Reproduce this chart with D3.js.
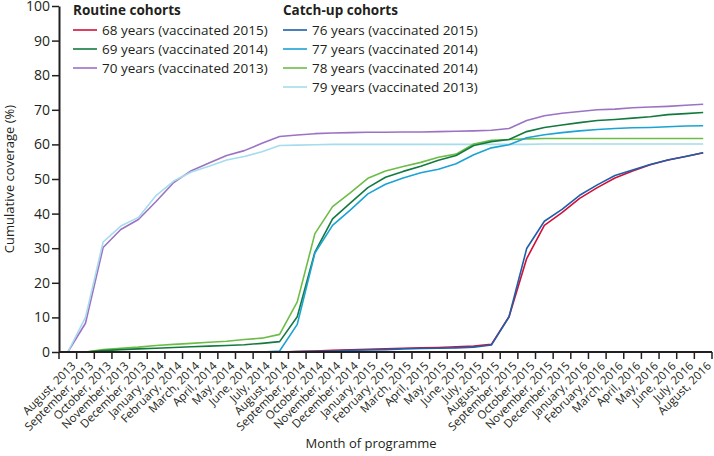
<!DOCTYPE html>
<html>
<head>
<meta charset="utf-8">
<script src="https://cdnjs.cloudflare.com/ajax/libs/d3/7.8.5/d3.min.js"></script>
<style>
  body { margin: 0; background: #fff; }
  svg text { font-family: "Open Sans", sans-serif; fill: #231f20; }
</style>
</head>
<body>
<div id="chart"></div>
<script>
// months of programme
var months = ["August, 2013", "September, 2013", "October, 2013", "November, 2013", "December, 2013",
  "January, 2014", "February, 2014", "March, 2014", "April, 2014", "May, 2014", "June, 2014", "July, 2014",
  "August, 2014", "September, 2014", "October, 2014", "November, 2014", "December, 2014",
  "January, 2015", "February, 2015", "March, 2015", "April, 2015", "May, 2015", "June, 2015", "July, 2015",
  "August, 2015", "September, 2015", "October, 2015", "November, 2015", "December, 2015",
  "January, 2016", "February, 2016", "March, 2016", "April, 2016", "May, 2016", "June, 2016", "July, 2016",
  "August, 2016"];

var yTicks = [0, 10, 20, 30, 40, 50, 60, 70, 80, 90, 100];

// routine cohorts (null = not yet in programme)
var age68 = [null, null, null, null, null, null, null, null, null, null, null, null,
  0, 0.1, 0.3, 0.5, 0.6, 0.8, 0.9, 1.1, 1.2, 1.3, 1.5, 1.7, 2.2,
  10.2, 27, 36.6, 40.3, 44.4, 47.5, 50.3, 52.3, 54.1, 55.5, 56.5, 57.6];
var age69 = [null, 0, 0.4, 0.7, 0.9, 1.1, 1.3, 1.5, 1.7, 1.9, 2.1, 2.5,
  3.0, 10.2, 28.9, 38.5, 43, 47.5, 50.5, 52.2, 53.7, 55.4, 56.8, 59.7, 60.8,
  61.4, 63.7, 64.9, 65.6, 66.3, 66.9, 67.2, 67.6, 68, 68.6, 68.9, 69.2];
var age70 = [0, 8.3, 30.2, 35.4, 38.3, 43.5, 49, 52.4, 54.6, 56.8, 58.2, 60.3,
  62.3, 62.7, 63.1, 63.3, 63.4, 63.5, 63.5, 63.6, 63.6, 63.7, 63.8, 63.9, 64.1,
  64.6, 66.9, 68.3, 69, 69.5, 70, 70.2, 70.6, 70.8, 71, 71.3, 71.6];

// catch-up cohorts
var age76 = [null, null, null, null, null, null, null, null, null, null, null, null,
  0, 0.1, 0.2, 0.3, 0.5, 0.6, 0.7, 0.9, 1.0, 1.1, 1.2, 1.4, 2.0,
  10.2, 29.9, 37.8, 41.2, 45.3, 48.3, 51, 52.6, 54.2, 55.5, 56.5, 57.6];
var age77 = [null, null, null, null, null, null, null, null, null, null, null, 0,
  0.3, 8, 28.6, 36.6, 41, 45.7, 48.5, 50.3, 51.8, 52.8, 54.4, 57, 59,
  59.9, 61.9, 62.8, 63.4, 63.9, 64.3, 64.6, 64.8, 64.9, 65.1, 65.3, 65.4];
var age78 = [null, 0, 0.7, 1.1, 1.4, 1.9, 2.2, 2.5, 2.8, 3.1, 3.6, 4.0,
  5.1, 14.5, 34.2, 42, 46, 50.2, 52.3, 53.6, 54.8, 56.3, 57.2, 60.1, 61.2,
  61.4, 61.6, 61.7, 61.7, 61.7, 61.7, 61.7, 61.7, 61.7, 61.7, 61.7, 61.7];
var age79 = [0, 10, 31.8, 36.4, 38.9, 45.2, 49.4, 52, 53.7, 55.5, 56.5, 57.9,
  59.7, 59.8, 59.9, 60, 60, 60, 60, 60, 60, 60, 60, 60, 60,
  60, 60, 60.1, 60.1, 60.1, 60.1, 60.1, 60.1, 60.1, 60.1, 60.1, 60.1];

var routine = [
  { name: "68 years (vaccinated 2015)", values: age68, color: "#d0103a" },
  { name: "69 years (vaccinated 2014)", values: age69, color: "#137a3f" },
  { name: "70 years (vaccinated 2013)", values: age70, color: "#9b72c4" }
];
var catchup = [
  { name: "76 years (vaccinated 2015)", values: age76, color: "#1f5ea8" },
  { name: "77 years (vaccinated 2014)", values: age77, color: "#1ba3d3" },
  { name: "78 years (vaccinated 2014)", values: age78, color: "#6cbd45" },
  { name: "79 years (vaccinated 2013)", values: age79, color: "#a6dcec" }
];

var width = 714, height = 456;
var margin = { top: 6, right: 2, bottom: 104, left: 59 };

var svg = d3.select("#chart").append("svg")
  .attr("width", width)
  .attr("height", height);

var x = d3.scaleBand()
  .domain(months)
  .range([margin.left, width - margin.right])
  .paddingInner(0).paddingOuter(0);

var y = d3.scaleLinear()
  .domain([0, 100])
  .range([height - margin.bottom, margin.top]);

var line = d3.line()
  .defined(d => d != null)
  .x((d, i) => x(months[i]) + x.bandwidth() / 2)
  .y(d => y(d));

// draw order roughly as in the original
var drawOrder = [routine[2], catchup[3], catchup[2], routine[1], catchup[1], routine[0], catchup[0]];

svg.append("g")
  .selectAll("path")
  .data(drawOrder)
  .join("path")
  .attr("fill", "none")
  .attr("stroke", d => d.color)
  .attr("stroke-width", 1.6)
  .attr("stroke-linejoin", "round")
  .attr("d", d => line(d.values));

// y axis
var yAxis = svg.append("g")
  .attr("transform", `translate(${margin.left},0)`)
  .call(d3.axisLeft(y).tickValues(yTicks).tickSize(7).tickSizeOuter(0));
yAxis.select(".domain").attr("stroke", "#231f20").attr("stroke-width", 2);
yAxis.selectAll(".tick line").attr("stroke", "#231f20").attr("stroke-width", 1.5);
yAxis.selectAll(".tick text")
  .attr("x", -9)
  .style("font-size", "14px")
  .style("font-family", "Open Sans, sans-serif");

// x axis, ticks on band boundaries
var xAxisG = svg.append("g")
  .attr("transform", `translate(0,${y(0)})`);
xAxisG.append("line")
  .attr("x1", margin.left).attr("x2", width - margin.right)
  .attr("stroke", "#231f20").attr("stroke-width", 2);
var bounds = months.map(m => x(m)).concat([x(months[months.length - 1]) + x.bandwidth()]);
xAxisG.selectAll(".tk")
  .data(bounds)
  .join("line")
  .attr("class", "tk")
  .attr("x1", d => d).attr("x2", d => d)
  .attr("y1", 0).attr("y2", 7)
  .attr("stroke", "#231f20").attr("stroke-width", 1.5);
xAxisG.selectAll(".lbl")
  .data(months)
  .join("text")
  .attr("class", "lbl")
  .attr("transform", d => `translate(${x(d) + x.bandwidth() / 2 + 3},9)rotate(-45)`)
  .attr("text-anchor", "end")
  .attr("dy", "0.7em")
  .style("font-size", "11.5px")
  .text(d => d);

// axis titles
svg.append("text")
  .attr("transform", `translate(14,${y(50)})rotate(-90)`)
  .attr("text-anchor", "middle")
  .style("font-size", "13px")
  .text("Cumulative coverage (%)");

svg.append("text")
  .attr("x", 371).attr("y", 448)
  .attr("text-anchor", "middle")
  .style("font-size", "13px")
  .text("Month of programme");

// legends
function legend(x0, title, items) {
  var g = svg.append("g").attr("transform", `translate(${x0},0)`);
  g.append("text")
    .attr("x", 0).attr("y", 15)
    .style("font-size", "13.5px")
    .style("font-weight", "bold")
    .text(title);
  var row = g.selectAll(".row")
    .data(items)
    .join("g")
    .attr("transform", (d, i) => `translate(0,${30 + i * 19})`);
  row.append("line")
    .attr("x1", 0).attr("x2", 24)
    .attr("stroke", d => d.color).attr("stroke-width", 1.6);
  row.append("text")
    .attr("x", 29).attr("dy", "0.35em")
    .style("font-size", "13.5px")
    .text(d => d.name);
}
legend(73, "Routine cohorts", routine);
legend(283, "Catch-up cohorts", catchup);
</script>
</body>
</html>
